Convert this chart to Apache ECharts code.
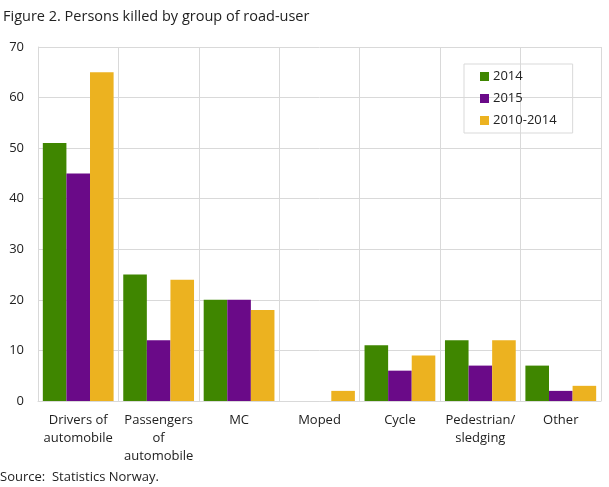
<!DOCTYPE html>
<html>
<head>
<meta charset="utf-8">
<script src="https://cdn.jsdelivr.net/npm/echarts@6/dist/echarts.min.js"></script>
<style>
html,body{margin:0;padding:0;background:#fff;}
#c{width:609px;height:487px;}
</style>
</head>
<body>
<div id="c"></div>
<script>
const categories = ["Drivers of\nautomobile", "Passengers\nof\nautomobile", "MC", "Moped", "Cycle", "Pedestrian/\nsledging", "Other"];
const seriesNames = ["2014", "2015", "2010-2014"];
const values2014 = [51, 25, 20, 0, 11, 12, 7];
const values2015 = [45, 12, 20, 0, 6, 7, 2];
const values2010_2014 = [65, 24, 18, 2, 9, 12, 3];
const colors = ["#3f8600", "#6a0a88", "#ecb220"];

const chart = echarts.init(document.getElementById('c'));
const font = "'Open Sans', sans-serif";
chart.setOption({
  animation: false,
  textStyle: {fontFamily: font},
  title: {
    text: "Figure 2. Persons killed by group of road-user",
    left: -2, top: 4,
    textStyle: {fontFamily: font, fontSize: 14.5, fontWeight: 'normal', color: '#222'}
  },
  graphic: [{
    type: 'text', left: 0, top: 471,
    style: {text: "Source:  Statistics Norway.", fontFamily: font, fontSize: 13, fill: '#222'}
  }],
  legend: {
    orient: 'vertical',
    left: 464, top: 64,
    padding: [6, 16, 6, 16],
    itemGap: 9,
    itemWidth: 9, itemHeight: 9,
    borderColor: '#d9d9d9', borderWidth: 1,
    icon: 'rect',
    textStyle: {fontFamily: font, fontSize: 13, color: '#222', padding: [0,0,0,-1]},
    data: seriesNames
  },
  grid: {left: 38, right: 8, top: 47, bottom: 86},
  xAxis: {
    type: 'category',
    data: categories,
    axisLine: {lineStyle: {color: '#d9d9d9'}},
    axisTick: {show: false},
    splitLine: {show: true, lineStyle: {color: '#d9d9d9'}},
    axisLabel: {interval: 0, color: '#222', fontSize: 13, lineHeight: 18, margin: 10, fontFamily: font}
  },
  yAxis: {
    type: 'value', min: 0, max: 70, interval: 10,
    axisLine: {show: true, lineStyle: {color: '#d9d9d9'}},
    splitLine: {lineStyle: {color: '#d9d9d9'}},
    axisLabel: {color: '#222', fontSize: 13, margin: 14, fontFamily: font}
  },
  series: [
    {name: seriesNames[0], type: 'bar', data: values2014, itemStyle: {color: colors[0]}, barGap: '0%', barCategoryGap: '12%'},
    {name: seriesNames[1], type: 'bar', data: values2015, itemStyle: {color: colors[1]}, barGap: '0%', barCategoryGap: '12%'},
    {name: seriesNames[2], type: 'bar', data: values2010_2014, itemStyle: {color: colors[2]}, barGap: '0%', barCategoryGap: '12%'}
  ]
});
</script>
</body>
</html>
